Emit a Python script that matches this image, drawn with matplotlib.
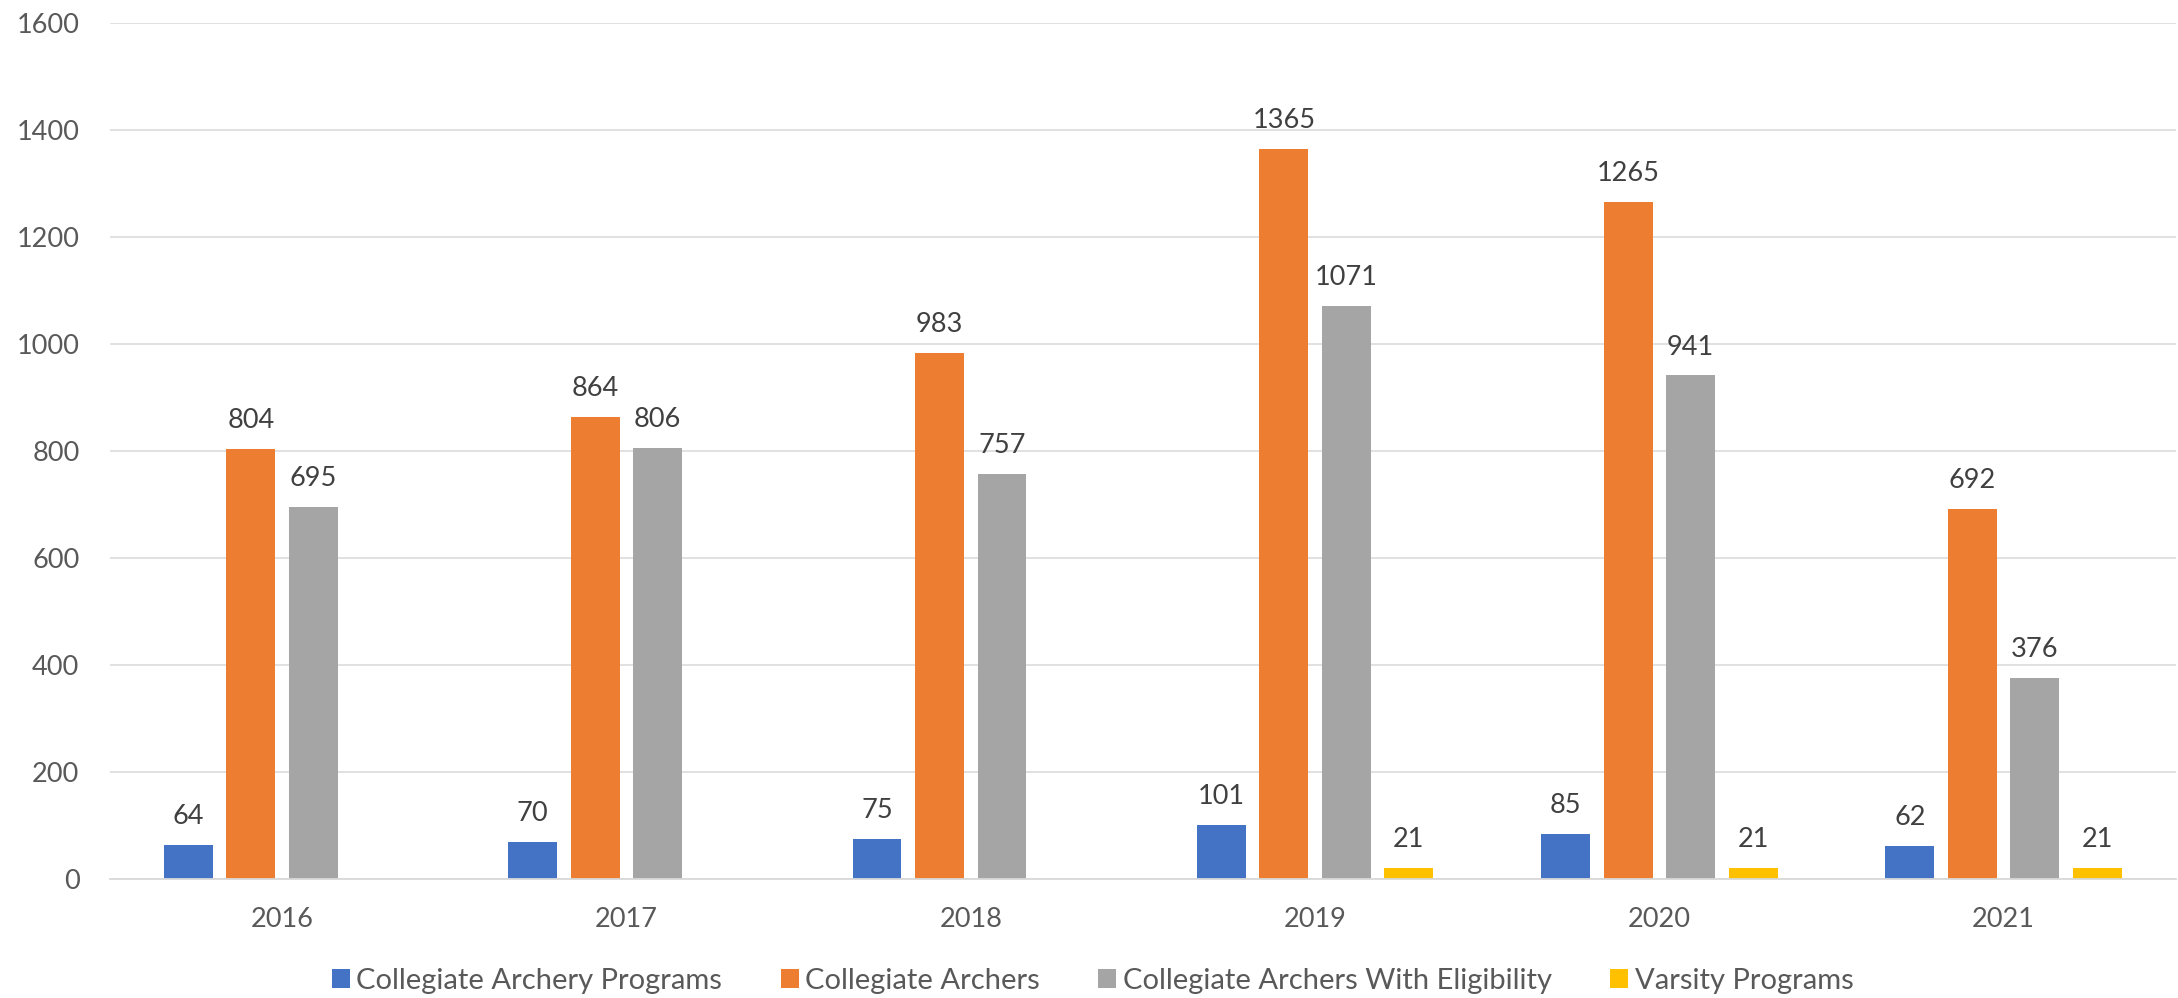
import numpy as np
import matplotlib
matplotlib.use("Agg")
import matplotlib.pyplot as plt

# data
years = ["2016", "2017", "2018", "2019", "2020", "2021"]
programs = [64, 70, 75, 101, 85, 62]
archers = [804, 864, 983, 1365, 1265, 692]
eligible = [695, 806, 757, 1071, 941, 376]
varsity = [0, 0, 0, 21, 21, 21]

series_names = ["Collegiate Archery Programs", "Collegiate Archers",
                "Collegiate Archers With Eligibility", "Varsity Programs"]
colors = ["#4472C4", "#ED7D31", "#A5A5A5", "#FFC000"]

plt.rcParams['font.family'] = ['Lato', 'DejaVu Sans']
fs = 19.5

fig = plt.figure(figsize=(21.78, 9.98), dpi=100)
ax = fig.add_axes([0.0505, 0.1192, 0.9485, 0.858])

x = np.arange(len(years))
pitch = 0.1815
width = 0.142
all_series = [programs, archers, eligible, varsity]
for i, (vals, name, col) in enumerate(zip(all_series, series_names, colors)):
    pos = x + (i - 1.5) * pitch
    ax.bar(pos, vals, width, color=col, label=name, zorder=3)
    for p, v in zip(pos, vals):
        if v:
            ax.annotate(str(v), (p, v), xytext=(0, 15), textcoords="offset points",
                        ha="center", va="baseline", fontsize=fs, color="#404040")

ax.set_xlim(-0.5, 5.5)
ax.set_ylim(0, 1600)
ax.set_yticks(np.arange(0, 1601, 200))
ax.set_xticks(x)
ax.set_xticklabels(years)
ax.tick_params(axis="both", length=0, labelsize=fs, labelcolor="#595959")
ax.tick_params(axis="y", pad=22)
ax.tick_params(axis="x", pad=20)
ax.grid(axis="y", color="#D9D9D9", linewidth=1.1, zorder=0)
for s in ["top", "right", "left"]:
    ax.spines[s].set_visible(False)
ax.spines["bottom"].set_color("#D9D9D9")
ax.spines["bottom"].set_linewidth(1.3)
ax.spines["bottom"].set_zorder(4)

fig.legend(loc="center left", bbox_to_anchor=(0.1524, 0.017), ncol=4, frameon=False,
           fontsize=21, labelcolor="#595959", handlelength=0.62, handleheight=0.62,
           handletextpad=0.22, columnspacing=2.0, borderpad=0, borderaxespad=0)

fig.savefig("out.png", dpi=100)
